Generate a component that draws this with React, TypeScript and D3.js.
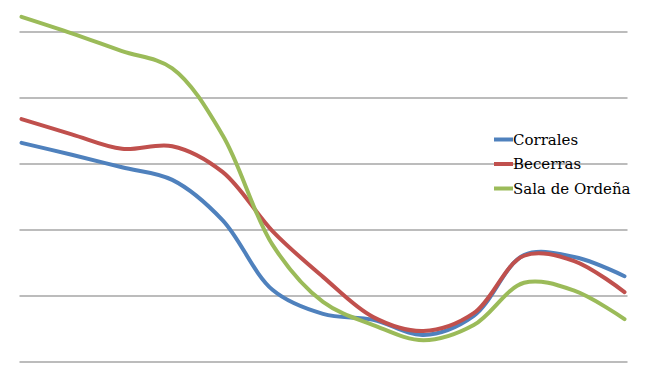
import React from "react";
import * as d3 from "d3";

const categories = ["1", "2", "3", "4", "5", "6", "7", "8", "9", "10", "11", "12", "13"];
const corrales = [33.2, 31.4, 29.5, 27.6, 21.5, 10.9, 7.3, 6.4, 4.1, 7.0, 16.2, 15.9, 13.0];
const becerras = [36.8, 34.5, 32.3, 32.7, 28.8, 19.8, 12.9, 6.8, 4.7, 7.4, 16.1, 15.3, 10.6];
const salaOrdena = [52.3, 49.8, 47.1, 44.5, 34.4, 17.7, 9.1, 5.6, 3.3, 5.6, 12.0, 10.8, 6.5];
const yTicks = [0, 10, 20, 30, 40, 50];

const seriesNames = ["Corrales", "Becerras", "Sala de Ordeña"];
const seriesColors = ["#4F81BD", "#C0504D", "#9BBB59"];

const W = 649;
const H = 379;

export default function App() {
  const x = d3
    .scalePoint<string>()
    .domain(categories)
    .range([21.5, 624.5]);
  const y = d3.scaleLinear().domain([0, 50]).range([362, 32]);

  const line = d3
    .line<number>()
    .x((_, i) => x(categories[i]) as number)
    .y((d) => y(d))
    .curve(d3.curveCatmullRom.alpha(0.5));

  const data = [corrales, becerras, salaOrdena];

  return (
    <div style={{ position: "absolute", left: 0, top: 0 }}>
      <svg width={W} height={H} style={{ display: "block", background: "#fff" }}>
        <rect x={0} y={0} width={W} height={H} fill="#fff" />
        {yTicks.map((t) => (
          <line
            key={t}
            x1={19.5}
            x2={627.5}
            y1={y(t)}
            y2={y(t)}
            stroke="#A6A6A6"
            strokeWidth={1.5}
          />
        ))}
        {data.map((s, i) => (
          <path
            key={seriesNames[i]}
            d={line(s) || ""}
            fill="none"
            stroke={seriesColors[i]}
            strokeWidth={4}
            strokeLinecap="round"
            strokeLinejoin="round"
          />
        ))}
        {seriesNames.map((n, i) => {
          const ly = 139.5 + i * 24.5;
          return (
            <g key={n}>
              <line
                x1={494}
                x2={513}
                y1={ly}
                y2={ly}
                stroke={seriesColors[i]}
                strokeWidth={4}
              />
              <text
                x={513}
                y={ly + 5}
                fontFamily="'DejaVu Serif', serif"
                fontSize={15}
                fill="#000"
              >
                {n}
              </text>
            </g>
          );
        })}
      </svg>
    </div>
  );
}
